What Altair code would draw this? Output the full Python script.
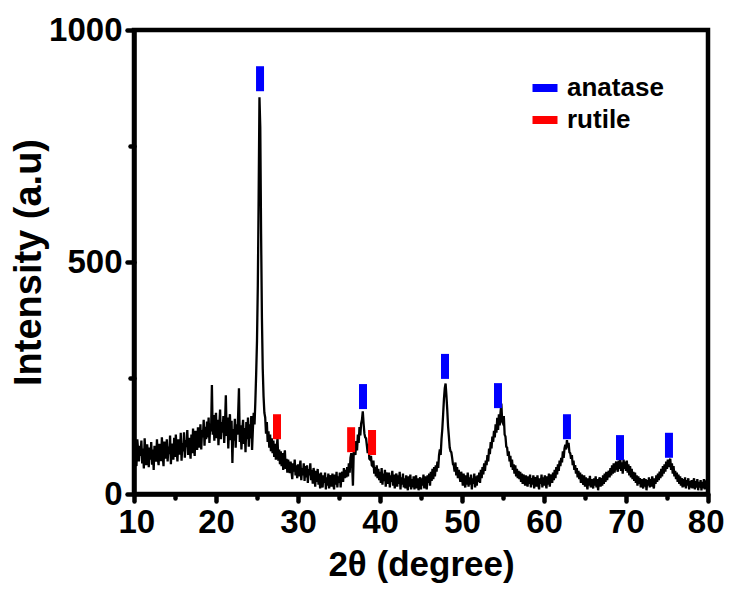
import altair as alt
import pandas as pd

theta_start = 10.0
theta_step = 0.1
intensity = (
    [72, 110, 88, 60, 118, 95, 70, 104, 82, 115]        # 10
    + [66, 98, 55, 120, 80, 62, 107, 91, 58, 100]       # 11
    + [74, 112, 63, 96, 52, 104, 88, 70, 118, 79]       # 12
    + [62, 108, 95, 71, 122, 84, 60, 113, 97, 76]       # 13
    + [118, 70, 102, 86, 126, 64, 109, 92, 74, 121]     # 14
    + [80, 128, 96, 70, 118, 104, 85, 132, 72, 110]     # 15
    + [92, 133, 78, 116, 101, 138, 84, 121, 98, 76]     # 16
    + [128, 88, 141, 104, 82, 136, 115, 95, 144, 100]   # 17
    + [108, 150, 96, 138, 122, 160, 104, 145, 118, 156] # 18
    + [122, 165, 110, 152, 135, 235, 128, 170, 115, 158]  # 19
    + [175, 120, 160, 105, 148, 182, 118, 155, 132, 168]  # 20
    + [110, 150, 213, 125, 165, 98, 145, 172, 116, 158]   # 21
    + [67, 140, 115, 162, 100, 150, 128, 170, 228, 112]   # 22
    + [148, 96, 135, 160, 108, 142, 90, 155, 118, 165]    # 23
    + [102, 150, 120, 168, 95, 140, 175, 150, 200, 260]   # 24
    + [330, 450, 640, 855, 790, 560, 380, 270, 210, 175]  # 25
    + [165, 130, 155, 112, 135, 100, 128, 92, 120, 88]    # 26
    + [115, 80, 108, 74, 100, 120, 72, 96, 64, 92]        # 27
    + [60, 88, 52, 80, 94, 54, 76, 46, 74, 58]            # 28
    + [45, 70, 50, 32, 66, 48, 74, 40, 62, 34]            # 29
    + [64, 38, 58, 72, 30, 56, 40, 66, 28, 60]            # 30
    + [36, 62, 24, 54, 40, 66, 30, 52, 22, 56]            # 31
    + [42, 16, 50, 26, 54, 20, 44, 12, 46, 28]            # 32
    + [14, 40, 24, 46, 10, 36, 18, 44, 12, 34]            # 33
    + [40, 16, 44, 22, 10, 42, 20, 48, 14, 38]            # 34
    + [24, 46, 14, 40, 48, 26, 56, 34, 52, 36]            # 35
    + [58, 38, 66, 46, 78, 88, 64, 18, 94, 100]           # 36
    + [84, 114, 94, 128, 110, 144, 126, 152, 160, 178]    # 37
    + [152, 130, 122, 120, 104, 88, 108, 76, 74, 82]      # 38
    + [62, 60, 72, 44, 58, 38, 62, 34, 54, 30]            # 39
    + [48, 24, 56, 20, 44, 28, 52, 16, 42, 46]            # 40
    + [22, 46, 14, 40, 26, 50, 18, 42, 12, 38]            # 41
    + [44, 16, 40, 22, 48, 10, 36, 20, 44, 14]            # 42
    + [34, 12, 40, 18, 8, 38, 16, 42, 10, 32]             # 43
    + [14, 38, 10, 32, 40, 12, 34, 8, 30, 36]             # 44
    + [10, 34, 18, 42, 12, 38, 22, 10, 40, 24]            # 45
    + [44, 18, 48, 28, 54, 32, 58, 38, 62, 48]            # 46
    + [70, 56, 84, 96, 84, 118, 140, 172, 205, 228]       # 47
    + [238, 212, 182, 146, 124, 100, 92, 90, 78, 64]      # 48
    + [62, 48, 68, 40, 58, 34, 52, 38, 26, 48]            # 49
    + [38, 18, 44, 24, 14, 40, 20, 46, 16, 36]            # 50
    + [20, 42, 10, 34, 22, 44, 14, 38, 18, 40]            # 51
    + [26, 46, 24, 52, 34, 58, 42, 66, 50, 72]            # 52
    + [62, 84, 70, 98, 86, 112, 98, 124, 112, 136]        # 53
    + [122, 150, 132, 164, 138, 172, 148, 176, 195, 156]  # 54
    + [152, 168, 128, 124, 102, 100, 82, 92, 70, 82]      # 55
    + [58, 74, 52, 64, 44, 62, 38, 54, 34, 50]            # 56
    + [32, 48, 26, 44, 22, 42, 30, 18, 40, 24]            # 57
    + [16, 38, 22, 42, 14, 34, 20, 40, 12, 32]            # 58
    + [36, 16, 40, 20, 10, 34, 22, 42, 14, 36]            # 59
    + [18, 40, 24, 12, 38, 20, 44, 16, 34, 42]            # 60
    + [24, 46, 30, 52, 34, 58, 42, 64, 50, 72]            # 61
    + [60, 78, 68, 92, 78, 98, 106, 96, 116, 100]         # 62
    + [110, 90, 88, 76, 84, 62, 72, 52, 62, 44]           # 63
    + [56, 36, 50, 32, 46, 24, 42, 28, 20, 40]            # 64
    + [16, 36, 22, 10, 34, 18, 39, 14, 32, 20]            # 65
    + [12, 34, 18, 38, 14, 32, 8, 30, 36, 16]             # 66
    + [34, 18, 40, 22, 44, 26, 48, 30, 42, 50]            # 67
    + [36, 56, 40, 62, 44, 66, 46, 60, 70, 56]            # 68
    + [48, 72, 54, 76, 50, 68, 44, 74, 54, 70]            # 69
    + [50, 72, 46, 64, 40, 60, 36, 54, 32, 48]            # 70
    + [28, 46, 24, 40, 18, 38, 22, 34, 14, 32]            # 71
    + [20, 12, 34, 16, 32, 8, 30, 18, 36, 14]             # 72
    + [32, 16, 38, 20, 12, 34, 22, 40, 26, 44]            # 73
    + [30, 48, 34, 54, 38, 60, 44, 64, 48, 70]            # 74
    + [54, 74, 58, 72, 76, 52, 66, 44, 60, 38]            # 75
    + [50, 32, 46, 26, 42, 22, 38, 18, 34, 14]            # 76
    + [32, 16, 36, 12, 30, 18, 34, 10, 28, 14]            # 77
    + [30, 12, 26, 34, 10, 28, 14, 32, 8, 26]             # 78
    + [14, 30, 8, 26, 12, 32, 10, 24, 28, 12]             # 79
    + [20]                                                # 80
)

# phase reflection markers (position, marker centre height)
anatase_pos = [25.37, 37.93, 47.93, 54.39, 62.8, 69.27, 75.24]
anatase_mark = [895, 210, 275, 212, 145, 100, 105]
rutile_pos = [27.44, 36.48, 39.03]
rutile_mark = [145, 117, 111]

x_major = [10, 20, 30, 40, 50, 60, 70, 80]
x_minor = [15, 25, 35, 45, 55, 65, 75]
y_major = [0, 500, 1000]
y_minor = [250, 750]

theta = [round(theta_start + theta_step * i, 1) for i in range(len(intensity))]
curve = pd.DataFrame({"theta": theta, "intensity": intensity})
markers = pd.DataFrame({
    "theta": anatase_pos + rutile_pos,
    "intensity": anatase_mark + rutile_mark,
    "phase": ["anatase"] * len(anatase_pos) + ["rutile"] * len(rutile_pos),
})

FONT = "Arial, Liberation Sans, sans-serif"
AX = dict(
    labelFont=FONT, labelFontSize=33, labelFontWeight="bold", labelColor="black",
    labelOverlap=False, format="d",
    titleFont=FONT, titleFontWeight="bold", titleColor="black",
    domainColor="black", domainWidth=4.5, tickColor="black", tickWidth=4.5,
    tickCap="round", grid=False,
)

xscale = alt.Scale(domain=[10, 80], nice=False, zero=False)
yscale = alt.Scale(domain=[0, 1000], nice=False)

line = alt.Chart(curve).mark_line(color="black", strokeWidth=2.3).encode(
    x=alt.X("theta:Q", scale=xscale,
            axis=alt.Axis(orient="bottom", values=x_major, title="2θ (degree)",
                          tickSize=7, labelPadding=5, titleFontSize=35,
                          labelFlush=True, labelFlushOffset=16,
                          titleX=287, titleY=81, titleBaseline="alphabetic",
                          titleAlign="center", **AX)),
    y=alt.Y("intensity:Q", scale=yscale,
            axis=alt.Axis(orient="left", values=y_major, title="Intensity (a.u)",
                          tickSize=7, labelPadding=5, titleFontSize=38,
                          labelFlush=False,
                          titleX=-94, titleY=232, titleAngle=-90,
                          titleBaseline="alphabetic", titleAlign="center", **AX)),
)

pts = alt.Chart(markers).mark_point(
    shape="M-0.32,-1H0.32V1H-0.32Z", filled=True, size=625, opacity=1, strokeWidth=0
).encode(
    x=alt.X("theta:Q", scale=xscale,
            axis=alt.Axis(orient="bottom", values=x_minor, labels=False, domain=False,
                          title=None, tickSize=4, **AX)),
    y=alt.Y("intensity:Q", scale=yscale,
            axis=alt.Axis(orient="left", values=y_minor, labels=False, domain=False,
                          title=None, tickSize=4, **AX)),
    color=alt.Color("phase:N",
                    scale=alt.Scale(domain=["anatase", "rutile"], range=["#0000FF", "#FF0000"]),
                    legend=alt.Legend(
                        title=None, orient="none", legendX=398, legendY=45,
                        symbolType="M-1,-0.32H1V0.32H-1Z", symbolSize=625,
                        symbolStrokeWidth=0, symbolOpacity=1,
                        labelFont=FONT, labelFontSize=26, labelFontWeight="bold",
                        labelColor="black", labelOffset=9, rowPadding=6, padding=0,
                    )),
)

chart = (
    alt.layer(line, pts)
    .resolve_axis(x="independent", y="independent")
    .properties(
        width=574, height=464,
        autosize=alt.AutoSizeParams(type="none"),
        padding={"left": 126, "top": 22, "right": 16, "bottom": 89},
        background="white",
    )
    .configure_view(stroke="black", strokeWidth=4.5)
)

chart.save("out.html", embed_options={"renderer": "svg", "actions": False})
